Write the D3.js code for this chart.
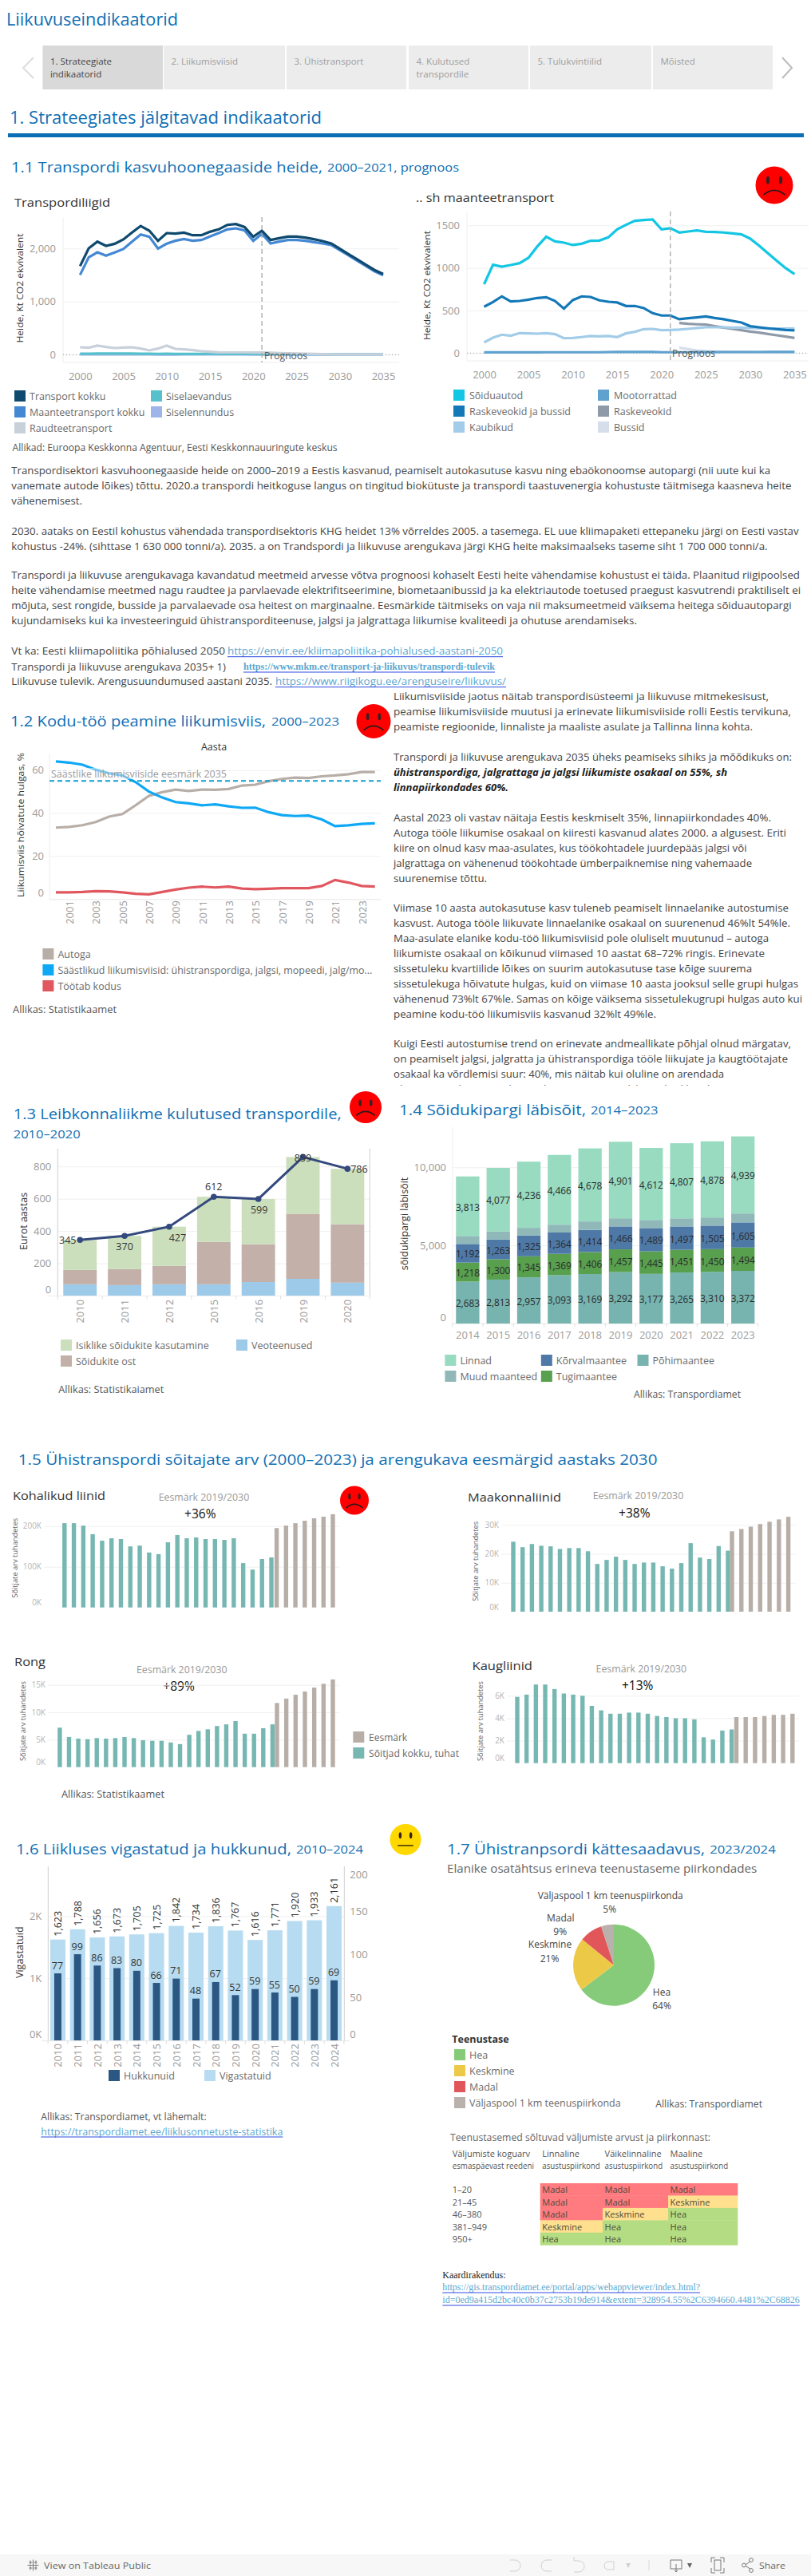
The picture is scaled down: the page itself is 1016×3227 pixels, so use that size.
<!DOCTYPE html>
<html lang="et"><head><meta charset="utf-8"><title>Liikuvuseindikaatorid</title>
<script src="https://cdn.jsdelivr.net/npm/d3@7/dist/d3.min.js"></script>
<style>html,body{margin:0;padding:0;background:#fff;overflow:hidden}svg{display:block}</style></head>
<body><div id="chart"></div>
<script>
// ---------- DATA ----------
const tabs=[["1. Strateegiate","indikaatorid"],["2. Liikumisviisid"],["3. Ühistransport"],["4. Kulutused","transpordile"],["5. Tulukvintiilid"],["Mõisted"]];
const yearsA=d3.range(2000,2036);
const transportKokku=[1668,2004,2129,2049,2089,2170,2300,2425,2335,2144,2290,2280,2300,2250,2250,2315,2360,2445,2460,2405,2220,2335,2160,2195,2225,2225,2205,2175,2140,2095,1995,1895,1795,1695,1595,1520];
const maanteeKokku=[1503,1834,1929,1864,1924,1990,2129,2265,2220,2000,2090,2145,2180,2145,2160,2225,2290,2360,2380,2340,2145,2275,2095,2130,2160,2160,2145,2120,2095,2065,1970,1870,1770,1670,1570,1495];
const raudtee=[140,130,170,145,125,135,140,115,80,115,170,110,100,85,65,55,45,42,42,42,40,40,35,30,25,22,18,14,10,8,6,5,5,5,5,5];
const siselaevandus=[18,18,20,22,22,20,20,18,18,16,18,15,15,14,15,17,16,15,14,14,13,13,12,12,11,11,10,10,10,10,10,10,10,10,10,10];
const siselennundus=[5,5,6,6,6,6,7,7,5,3,4,4,5,5,5,5,5,5,5,5,2,3,3,3,3,3,3,3,3,3,3,3,3,3,3,3];
const soiduautod=[809,1037,1015,1034,1056,1119,1253,1366,1312,1297,1269,1284,1319,1322,1359,1453,1506,1553,1562,1569,1453,1466,1416,1428,1441,1425,1422,1416,1406,1394,1344,1262,1172,1084,997,928];
const raskeJaBussid=[544,600,666,606,612,628,647,656,612,522,622,666,659,619,603,594,553,553,528,469,441,441,397,409,419,431,412,397,378,359,316,303,291,281,272,266];
const kaubikud=[125,181,216,203,234,231,228,234,222,175,178,188,200,197,200,188,231,250,281,284,269,272,275,284,294,303,303,303,300,300,294,291,288,288,288,288];
const mootorrattad=[8,8,8,8,8,8,8,10,10,10,10,10,10,10,12,13,14,14,14,13,10,10,10,10,11,11,11,12,12,12,12,12,13,13,13,13];
const yearsFc=d3.range(2022,2036);
const raskeveokid=[353,344,338,334,316,300,284,269,253,241,225,209,194,178];
const bussid=[62,47,31,22,18,15,14,13,13,12,12,12,12,12];

const yearsB=d3.range(2000,2025);
const autoga=[33.2,33.5,34.3,35.8,38.3,39.5,43.6,48,49.7,50.9,50.3,50.9,50.8,51.2,52.8,53.2,54.8,55.9,56.5,56.3,57.1,57.5,58.1,59.1,59.1];
const saastlikud=[64,63.5,62.5,60.2,58.5,57.5,54.4,50,47.2,45.1,44.5,43.6,44,43.1,42.4,42.5,40.4,39,38.6,38.8,37,33.9,34.3,34.9,35.2];
const kodus=[3,3,3.2,3.6,3.5,3,2.4,2.1,3.2,4.3,5.2,5.7,5.3,5.7,4.8,4.5,4.7,5,5,5,6,8.8,7.6,6,5.7];
const target2035=55;

const yearsC=["2010","2011","2012","2015","2016","2019","2020"];
const veoteenused=[70,65,70,70,84,104,80];
const soidukiteOst=[89,99,114,263,234,403,362];
const isiklike=[186,206,243,279,281,352,344];
const kulutusedKokku=[345,370,427,612,599,859,786];

const yearsD=["2014","2015","2016","2017","2018","2019","2020","2021","2022","2023"];
const pohi=[2683,2813,2957,3093,3169,3292,3177,3265,3310,3372];
const tugi=[1218,1300,1345,1369,1406,1457,1445,1451,1450,1494];
const korval=[1192,1263,1325,1364,1414,1466,1489,1497,1505,1605];
const muud=[510,510,500,500,545,520,520,520,520,570];
const linnad=[3813,4077,4236,4466,4678,4901,4612,4807,4878,4939];

const eesmarkYears=["2024","2025","2026","2027","2028","2029","2030"];
const kohalikudT=[207,207,201,180,164,170,168,150,152,135,131,160,178,170,172,168,168,166,170,109,93,119,123];
const kohalikudG=[195,201,207,213,219,223,229];
const maakonnaT=[24.2,22.3,23.4,22.8,22.6,21.7,22,22,20.9,16.5,17.9,19,17.9,16.5,17,17,15.7,14.9,16.8,23.7,18.7,18.2,22.7,21.1];
const maakonnaG=[27.8,28.6,29.4,30.3,31.1,31.9,32.8];
const rongT=[7.2,5.5,5.2,5.1,5.3,5.2,5.3,5.5,5.3,4.9,4.8,4.8,4.5,4.2,5.9,6.6,6.9,7.5,7.8,8.4,6.1,6.1,7.1,7.8];
const rongG=[11.7,12.5,13.2,13.8,14.5,15.2,16];
const kaugT=[5.9,6.1,7,7,6.6,6.2,6.1,6,5.1,4.7,4.4,4.4,4.5,4.5,4.4,4.2,4.1,4,4,3.9,2.3,2.1,2.9,3];
const kaugG=[4.1,4.1,4.1,4.2,4.3,4.3,4.4];

const yearsE=d3.range(2010,2025).map(String);
const vigastatuid=[1623,1788,1656,1673,1705,1725,1842,1734,1836,1767,1616,1771,1920,1933,2161];
const hukkunuid=[77,99,86,83,80,66,71,48,67,52,59,55,50,59,69];

const pieLabels=["Hea","Keskmine","Madal","Väljaspool 1 km teenuspiirkonda"];
const pieValues=[64,21,9,5];

const rowLabels=["1–20","21–45","46–380","381–949","950+"];
const colHeads=[["Linnaline","asustuspiirkond"],["Väikelinnaline","asustuspiirkond"],["Maaline","asustuspiirkond"]];
const serviceTable=[["Madal","Madal","Madal"],["Madal","Madal","Keskmine"],["Madal","Keskmine","Hea"],["Keskmine","Hea","Hea"],["Hea","Hea","Hea"]];

const para1=[
["Transpordisektori kasvuhoonegaaside heide on 2000–2019 a Eestis kasvanud, peamiselt autokasutuse kasvu ning ebaökonoomse autopargi (nii uute kui ka",589,965],
["vanemate autode lõikes) tõttu. 2020.a transpordi heitkoguse langus on tingitud biokütuste ja transpordi taastuvenergia kohustuste täitmisega kaasneva heite",608,991.5],
["vähenemisest.",627,103],
["2030. aataks on Eestil kohustus vähendada transpordisektoris KHG heidet 13% võrreldes 2005. a tasemega. EL uue kliimapaketi ettepaneku järgi on Eesti vastav",665,1000.6],
["kohustus -24%.  (sihttase 1 630 000 tonni/a). 2035. a on Trandspordi ja liikuvuse arengukava järgi KHG heite maksimaalseks taseme siht 1 700 000 tonni/a.",684,961.6],
["Transpordi ja liikuvuse arengukavaga kavandatud meetmeid arvesse võtva prognoosi kohaselt Eesti heite vähendamise kohustust ei täida. Plaanitud riigipoolsed",720.7,1002],
["heite vähendamise meetmed nagu raudtee ja parvlaevade elektrifitseerimine, biometaanibussid ja ka elektriautode toetused praegust kasvutrendi praktiliselt ei",739.7,1003],
["mõjuta, sest rongide, busside ja parvalaevade osa heitest on marginaalne. Eesmärkide täitmiseks on vaja nii maksumeetmeid väiksema heitega sõiduautopargi",758.7,991.5],
["kujundamiseks kui ka investeeringuid ühistransporditeenuse, jalgsi ja jalgrattaga liikumise kvaliteedi ja ohutuse arendamiseks.",777.7,798],
["Vt ka:  Eesti kliimapoliitika põhialused 2050",815.7,282],
["Transpordi ja liikuvuse arengukava 2035+ 1)",835,283],
["Liikuvuse tulevik. Arengusuundumused aastani 2035.",853.7,341]];
const links1=[
["https://envir.ee/kliimapoliitika-pohialused-aastani-2050",815.7,285,630,0],
["https://www.mkm.ee/transport-ja-liikuvus/transpordi-tulevik",835,305,620,1],
["https://www.riigikogu.ee/arenguseire/liikuvus/",853.7,345,634,0]];
const para2=[
["Liikumisviiside jaotus näitab transpordisüsteemi ja liikuvuse mitmekesisust,",872.7,963],
["peamise liikumisviiside muutusi ja erinevate liikumisviiside rolli Eestis tervikuna,",891.7,991],
["peamiste regioonide, linnaliste ja maaliste asulate ja Tallinna linna kohta.",910.7,943],
["Transpordi ja liikuvuse arengukava 2035 üheks peamiseks sihiks ja mõõdikuks on:",948.7,992],
["ühistranspordiga, jalgrattaga ja jalgsi liikumiste osakaal on 55%, sh",967.7,911,1],
["linnapiirkondades 60%.",986.7,637,1],
["Aastal 2023 oli vastav näitaja Eestis keskmiselt 35%, linnapiirkondades 40%.",1024.7,966],
["Autoga tööle liikumise osakaal on kiiresti kasvanud alates 2000. a algusest. Eriti",1043.7,985],
["kiire on olnud kasv maa-asulates, kus töökohtadele juurdepääs jalgsi või",1062.7,935.5],
["jalgrattaga on vähenenud töökohtade ümberpaiknemise ning vahemaade",1081.7,942],
["suurenemise tõttu.",1100.7,610],
["Viimase 10 aasta autokasutuse kasv tuleneb peamiselt linnaelanike autostumise",1137.7,988],
["kasvust. Autoga tööle liikuvate linnaelanike osakaal on suurenenud 46%lt 54%le.",1156.7,990],
["Maa-asulate elanike kodu-töö liikumisviisid pole oluliselt muutunud – autoga",1175.7,963],
["liikumiste osakaal on kõikunud viimased 10 aastat 68–72% ringis. Erinevate",1194.7,958],
["sissetuleku kvartiilide lõikes on suurim autokasutuse tase kõige suurema",1213.7,942],
["sissetulekuga hõivatute hulgas, kuid on viimase 10 aasta jooksul selle grupi hulgas",1232.7,1000],
["vähenenud 73%lt 67%le. Samas on kõige väiksema sissetulekugrupi hulgas auto kui",1251.7,1005],
["peamine kodu-töö liikumisviis kasvanud 32%lt 49%le.",1270.7,822],
["Kuigi Eesti autostumise trend on erinevate andmeallikate põhjal olnud märgatav,",1307.7,991],
["on peamiselt jalgsi, jalgratta ja ühistranspordiga tööle liikujate ja kaugtöötajate",1326.7,987],
["osakaal ka võrdlemisi suur: 40%, mis näitab kui oluline on arendada",1345.7,907],
["ühistransporditeenuseid ning ohutut ja mugavat liikumiskeskkonda.",1364.7,900]];

// ---------- HELPERS ----------
const FONT="'Open Sans',sans-serif", BLUE="#0f6fb5", TICK="#9a9a9a", LEG="#6b6b6b", TXT="#444";
const svg=d3.select("#chart").append("svg").attr("width",1016).attr("height",3227).attr("viewBox","0 0 1016 3227");
const defs=svg.append("defs");
defs.append("clipPath").attr("id","clipR").append("rect").attr("x",480).attr("y",860).attr("width",536).attr("height",500);
defs.append("clipPath").attr("id","clipL").append("rect").attr("x",540).attr("y",2840).attr("width",462).attr("height",60);

function T(str,x,y,o={},p=svg){
  const t=p.append("text").attr("x",x).attr("y",y).attr("dominant-baseline","central")
   .attr("font-size",o.s||12).attr("fill",o.c||TXT).attr("font-family",o.f||FONT).text(str);
  if(o.a)t.attr("text-anchor",o.a);
  if(o.b)t.attr("font-weight",o.b);
  if(o.i)t.attr("font-style","italic");
  if(o.L)t.attr("textLength",o.L).attr("lengthAdjust","spacingAndGlyphs");
  if(o.r)t.attr("transform",`rotate(${o.r},${x},${y})`);
  return t;
}
function face(cx,cy,r,col,sad){
  const g=svg.append("g").attr("transform",`translate(${cx},${cy})`);
  g.append("circle").attr("r",r).attr("fill",col);
  [-1,1].forEach(s=>g.append("ellipse").attr("cx",s*.34*r).attr("cy",-.27*r).attr("rx",.09*r).attr("ry",.21*r).attr("fill","#3a2020"));
  if(sad)g.append("path").attr("d",`M${-.58*r},${.52*r}Q0,${.02*r} ${.58*r},${.52*r}`).attr("fill","none").attr("stroke","#2a1a1a").attr("stroke-width",1.6);
  else g.append("line").attr("x1",-.5*r).attr("x2",.5*r).attr("y1",.38*r).attr("y2",.38*r).attr("stroke","#4a3a00").attr("stroke-width",1.6);
}
function axisY(scale,ticks,x,w,fmt,o={}){
  const a=svg.append("g").attr("transform",`translate(${x},0)`)
    .call(d3.axisLeft(scale).tickValues(ticks).tickFormat(fmt).tickSize(-w).tickPadding(o.pad||8));
  a.select(".domain").remove();
  a.selectAll(".tick line").attr("stroke",o.grid||"#f0f0f0").attr("stroke-width",1);
  a.selectAll(".tick text").attr("font-family",FONT).attr("font-size",o.s||13).attr("fill",o.c||TICK);
  if(o.lift)a.selectAll(".tick").filter(d=>d===0).select("text").attr("transform",`translate(0,${-o.lift})`);
  if(o.noZero)a.selectAll(".tick").filter(d=>d===0).select("line").remove();
  return a;
}
function axisX(scale,ticks,y,cy,o={}){
  const ax=d3.axisBottom(scale).tickSize(0).tickFormat(o.fmt||(d=>d));
  if(ticks)ax.tickValues(ticks);
  const a=svg.append("g").attr("transform",`translate(0,${y})`).call(ax);
  a.select(".domain").remove();
  a.selectAll(".tick text").attr("font-family",FONT).attr("font-size",o.s||13).attr("fill",TICK)
   .attr("y",0).attr("dy",null).attr("dominant-baseline","central")
   .attr("transform",`translate(0,${cy-y})`+(o.rot?" rotate(-90)":""));
  return a;
}
function legend(items,o){
  items.forEach(([lab,col,x,y,L])=>{
    svg.append("rect").attr("x",x).attr("y",y).attr("width",14).attr("height",14).attr("fill",col);
    T(lab,x+(o.gap||19),y+7,{s:o.s||12.5,c:LEG,L});
  });
}
function frame(x0,x1,y0,y1,c="#eeeeee"){
  svg.append("line").attr("x1",x0).attr("x2",x0).attr("y1",y0).attr("y2",y1).attr("stroke",c);
  svg.append("line").attr("x1",x0).attr("x2",x1).attr("y1",y1).attr("y2",y1).attr("stroke",c);
}
function link(str,y,x0,x1,o={}){
  T(str,x0,y,{s:o.s||12,c:"#5ba7cf",L:x1-x0,f:o.f,b:o.b});
  svg.append("line").attr("x1",x0).attr("x2",x1).attr("y1",y+7).attr("y2",y+7).attr("stroke","#1a35e0").attr("stroke-width",.9);
}
function bandTicks(x,y,n,x0,step){
  d3.range(n+1).forEach(i=>svg.append("line").attr("x1",x0+i*step).attr("x2",x0+i*step).attr("y1",y).attr("y2",y+4).attr("stroke","#dddddd"));
}

// ---------- HEADER ----------
T("Liikuvuseindikaatorid",8,24,{s:21,c:BLUE,L:215});
const tabX=[[53.4,204],[205,357],[359,509],[512,662],[664,816],[818,968]];
tabs.forEach((t,i)=>{
  svg.append("rect").attr("x",tabX[i][0]).attr("y",57).attr("width",tabX[i][1]-tabX[i][0]).attr("height",55).attr("fill",i?"#ececec":"#d9d9d9");
  t.forEach((l,j)=>T(l,tabX[i][0]+9.5,76+j*16,{s:11.5,c:i?"#9c9c9c":"#444"}));
});
svg.append("path").attr("d","M42,72L29,85L42,98").attr("fill","none").attr("stroke","#dddddd").attr("stroke-width",2);
svg.append("path").attr("d","M980,72L992,85L980,98").attr("fill","none").attr("stroke","#bbbbbb").attr("stroke-width",2);
T("1. Strateegiates jälgitavad indikaatorid",12,147,{s:21,c:BLUE,L:391});
svg.append("rect").attr("x",10).attr("y",167).attr("width",997).attr("height",5).attr("fill","#0a6fb4");

// ---------- 1.1 ----------
T("1.1 Transpordi kasvuhoonegaaside heide,",14,209,{s:18,c:BLUE,L:390});
T("2000–2021, prognoos",410,209,{s:14.5,c:BLUE,L:165});
face(970,232,23.5,"#ff0000",true);
T("Transpordiliigid",18,253,{s:15,c:"#333",L:120});
{
  const x=d3.scaleLinear().domain([2000,2035]).range([100.3,480]);
  const y=d3.scaleLinear().domain([0,2000]).range([444.3,311.3]);
  axisY(y,[0,1000,2000],79,421,d3.format(","),{pad:9});
  frame(79,500,272,454);
  svg.append("line").attr("x1",79).attr("x2",500).attr("y1",y(0)).attr("y2",y(0)).attr("stroke","#999").attr("stroke-dasharray","1,3");
  axisX(x,[2000,2005,2010,2015,2020,2025,2030,2035],454,470.7,{fmt:d3.format("d")});
  const line=d3.line().x((d,i)=>x(2000+i)).y(d=>y(d));
  [[siselennundus,"#9db5e8"],[siselaevandus,"#56c1cc"],[raudtee,"#c8d0da"],[maanteeKokku,"#4488d4"],[transportKokku,"#0f4a6e"]]
   .forEach(([v,c])=>svg.append("path").attr("d",line(v)).attr("fill","none").attr("stroke",c).attr("stroke-width",3.2));
  svg.append("line").attr("x1",x(2021)).attr("x2",x(2021)).attr("y1",272).attr("y2",454).attr("stroke","#a8a8a8").attr("stroke-width",1.3).attr("stroke-dasharray","6,4");
  T("Prognoos",331,445,{s:12.5,c:"#555",L:54});
  T("Heide, Kt CO2 ekvivalent",24,361,{s:11.5,c:"#333",a:"middle",r:-90,L:137});
  legend([["Transport kokku","#0f4a6e",18,489],["Maanteetransport kokku","#4488d4",18,509],["Raudteetransport","#c8d0da",18,529],["Siselaevandus","#56c1cc",189,489],["Siselennundus","#9db5e8",189,509]],{});
  T("Allikad: Euroopa Keskkonna Agentuur, Eesti Keskkonnauuringute keskus",15.6,560,{s:12,c:"#555",L:407});
}
T(".. sh maanteetransport",521,247,{s:15,c:"#333",L:173});
{
  const x=d3.scaleLinear().domain([2000,2035]).range([606.5,995.4]);
  const y=d3.scaleLinear().domain([0,1500]).range([442.3,282.3]);
  axisY(y,[0,500,1000,1500],585,428,d=>d,{pad:9});
  frame(585,1013,265,452);
  svg.append("line").attr("x1",585).attr("x2",1013).attr("y1",y(0)).attr("y2",y(0)).attr("stroke","#999").attr("stroke-dasharray","1,3");
  axisX(x,[2000,2005,2010,2015,2020,2025,2030,2035],452,468.7,{fmt:d3.format("d")});
  const line=s=>d3.line().x((d,i)=>x(s+i)).y(d=>y(d));
  [[bussid,"#d5deea",yearsFc[0]],[raskeveokid,"#8f9aa8",yearsFc[0]],[kaubikud,"#a2cce8",2000],[raskeJaBussid,"#1478b8",2000],[soiduautod,"#13c6e4",2000],[mootorrattad,"#5fa2d0",2000]]
   .forEach(([v,c,s])=>svg.append("path").attr("d",line(s)(v)).attr("fill","none").attr("stroke",c).attr("stroke-width",3.2));
  svg.append("line").attr("x1",x(2021)).attr("x2",x(2021)).attr("y1",265).attr("y2",452).attr("stroke","#a8a8a8").attr("stroke-width",1.3).attr("stroke-dasharray","6,4");
  T("Prognoos",842,442,{s:12.5,c:"#555",L:54});
  T("Heide, Kt CO2 ekvivalent",534,357.5,{s:11.5,c:"#333",a:"middle",r:-90,L:137});
  legend([["Sõiduautod","#13c6e4",568,488],["Raskeveokid ja bussid","#1478b8",568,508],["Kaubikud","#a2cce8",568,528],["Mootorrattad","#5fa2d0",749,488],["Raskeveokid","#8f9aa8",749,508],["Bussid","#d5deea",749,528]],{gap:20});
}

// ---------- TEXT ----------
para1.forEach(([s,y,e])=>T(s,14.3,y,{s:12.2,L:e-14.3}));
links1.forEach(([s,y,a,b,serif])=>link(s,y,a,b,serif?{f:"'Liberation Serif',serif",b:"bold",s:12}:{}));
const gR=svg.append("g").attr("clip-path","url(#clipR)");
para2.forEach(([s,y,e,bi])=>T(s,493,y,{s:12.2,L:e-493,b:bi?"bold":null,i:bi,c:bi?"#222":TXT},gR));

// ---------- 1.2 ----------
T("1.2 Kodu-töö peamine liikumisviis,",13,903,{s:18,c:BLUE,L:320});
T("2000–2023",340,903,{s:15,c:BLUE,L:85});
face(468,903.5,21.5,"#ff0000",true);
T("Aasta",268,935,{s:12.5,c:"#333",a:"middle"});
{
  const x=d3.scaleLinear().domain([2000,2024]).range([70,469.7]);
  const y=d3.scaleLinear().domain([0,60]).range([1126,964.7]);
  axisY(y,[0,20,40,60],62,415,d=>d,{pad:7,lift:8});
  frame(62,477,944,1127);
  axisX(x,d3.range(2001,2024,2),1127,1143,{rot:true,fmt:d3.format("d")});
  const line=d3.line().x((d,i)=>x(yearsB[i])).y(d=>y(d));
  [[autoga,"#b8aea8"],[saastlikud,"#0fa8f5"],[kodus,"#e1575f"]].forEach(([v,c])=>svg.append("path").attr("d",line(v)).attr("fill","none").attr("stroke",c).attr("stroke-width",3.2));
  svg.append("rect").attr("x",64).attr("y",962).attr("width",220).attr("height",14).attr("fill","#fff").attr("opacity",.45);
  svg.append("line").attr("x1",62).attr("x2",477).attr("y1",y(target2035)).attr("y2",y(target2035)).attr("stroke","#0f9fd0").attr("stroke-width",2).attr("stroke-dasharray","6,4");
  T("Säästlike liikumisviiside eesmärk 2035",64,969,{s:12,c:"#9a9a9a",L:220});
  T("Liikumisviis hõivatute hulgas, %",25,1033.5,{s:11.5,c:"#333",a:"middle",r:-90,L:181});
  legend([["Autoga","#b8aea8",53.4,1188],["Säästlikud liikumisviisid: ühistranspordiga, jalgsi, mopeedi, jalg/mo...","#0fa8f5",53.4,1208,394],["Töötab kodus","#e1575f",53.4,1228]],{});
  T("Allikas: Statistikaamet",16,1264,{s:12,c:"#555",L:130});
}

// ---------- 1.3 ----------
T("1.3 Leibkonnaliikme kulutused transpordile,",16.7,1395,{s:18,c:BLUE,L:411});
T("2010–2020",16.7,1420,{s:15,c:BLUE,L:84});
face(458,1387,20,"#ff0000",true);
{
  const x=d3.scaleBand().domain(yearsC).range([72.3,463.3]).paddingInner(.25).paddingOuter(.125);
  const y=d3.scaleLinear().domain([0,800]).range([1623,1461.3]);
  axisY(y,[0,200,400,600,800],72.3,391,d=>d,{pad:8,lift:8,s:13});
  const tbl=yearsC.map((k,i)=>({k,veo:veoteenused[i],ost:soidukiteOst[i],isik:isiklike[i]}));
  const st=d3.stack().keys(["veo","ost","isik"])(tbl);
  const cols={veo:"#9ecae9",ost:"#c3b0a9",isik:"#cbdfbd"};
  st.forEach(s=>svg.append("g").selectAll("rect").data(s).join("rect").attr("x",d=>x(d.data.k)).attr("width",x.bandwidth())
     .attr("y",d=>y(d[1])).attr("height",d=>y(d[0])-y(d[1])).attr("fill",cols[s.key]));
  svg.append("line").attr("x1",72.3).attr("x2",72.3).attr("y1",1439).attr("y2",1623.5).attr("stroke","#cfcfcf");
  svg.append("line").attr("x1",463.3).attr("x2",463.3).attr("y1",1439).attr("y2",1623.5).attr("stroke","#cfcfcf");
  svg.append("line").attr("x1",60).attr("x2",463.3).attr("y1",1623.5).attr("y2",1623.5).attr("stroke","#eeeeee");
  bandTicks(x,1623.5,7,72.3,x.step());
  axisX(x,null,1623.5,1642.7,{rot:true});
  const cx=d=>x(d)+x.bandwidth()/2;
  svg.append("path").attr("d",d3.line().x((d,i)=>cx(yearsC[i])).y(d=>y(d))(kulutusedKokku)).attr("fill","none").attr("stroke","#34497d").attr("stroke-width",3);
  svg.append("g").selectAll("circle").data(kulutusedKokku).join("circle").attr("cx",(d,i)=>cx(yearsC[i])).attr("cy",d=>y(d)).attr("r",3.8).attr("fill","#34497d");
  const off=[[-15.5,.5],[0,13],[10.5,13.5],[0,-12.5],[1,13.5],[0,1.5],[14.5,.5]];
  kulutusedKokku.forEach((d,i)=>T(d,cx(yearsC[i])+off[i][0],y(d)+off[i][1],{s:12.5,c:"#333",a:"middle"}));
  T("Eurot aastas",29.3,1530,{s:12.5,c:"#333",a:"middle",r:-90});
  legend([["Isiklike sõidukite kasutamine","#cbdfbd",76,1678],["Sõidukite ost","#c3b0a9",76,1698],["Veoteenused","#9ecae9",296,1678]],{});
  T("Allikas: Statistikaiamet",73.3,1740,{s:12,c:"#555",L:132});
}

// ---------- 1.4 ----------
T("1.4 Sõidukipargi läbisõit,",500,1390,{s:18,c:BLUE,L:234});
T("2014–2023",740,1390,{s:15,c:BLUE,L:84.5});
{
  const x=d3.scaleBand().domain(yearsD).range([566.75,949.85]).paddingInner(.235).paddingOuter(.1175);
  const y=d3.scaleLinear().domain([0,10000]).range([1658,1462.3]);
  axisY(y,[0,5000,10000],567,383,d3.format(","),{pad:8,lift:8});
  frame(567,950,1412,1658);
  bandTicks(x,1658,10,566.75,x.step());
  const tbl=yearsD.map((k,i)=>({k,pohi:pohi[i],tugi:tugi[i],korval:korval[i],muud:muud[i],linnad:linnad[i]}));
  const st=d3.stack().keys(["pohi","tugi","korval","muud","linnad"])(tbl);
  const cols={linnad:"#98dbc0",muud:"#90b8b8",korval:"#4e79a7",tugi:"#589f4e",pohi:"#77b4af"};
  st.forEach(s=>{
    const g=svg.append("g");
    g.selectAll("rect").data(s).join("rect").attr("x",d=>x(d.data.k)).attr("width",x.bandwidth())
     .attr("y",d=>y(d[1])).attr("height",d=>y(d[0])-y(d[1])).attr("fill",cols[s.key]);
    if(s.key!=="muud")s.forEach(d=>T(d3.format(",")(d.data[s.key]),x(d.data.k)+x.bandwidth()/2,y((d[0]+d[1])/2)+.5,{s:11.8,c:"#2a2a2a",a:"middle"}));
  });
  axisX(x,null,1658,1671.7);
  T("sõidukipargi läbisõit",506,1533,{s:12.5,c:"#333",a:"middle",r:-90});
  legend([["Linnad","#98dbc0",557.4,1697],["Muud maanteed","#90b8b8",557.4,1717],["Kõrvalmaantee","#4e79a7",677.8,1697],["Tugimaantee","#589f4e",677.8,1717],["Põhimaantee","#77b4af",798.5,1697]],{});
  T("Allikas: Transpordiamet",794,1746.7,{s:12,c:"#555",L:134});
}

// ---------- 1.5 ----------
T("1.5 Ühistransport sõitajate arv (2000–2023) ja arengukava eesmärgid aastaks 2030".replace("Ühistransport sõitajate","Ühistranspordi sõitajate"),22.8,1828,{s:18,c:BLUE,L:800.7});
function panel(o){
  T(o.title,o.tx,o.ty,{s:15,c:"#333",L:o.tw});
  T("Eesmärk 2019/2030",o.ex,o.ey,{s:12,c:"#999",L:113.5});
  T(o.pct,o.px,o.py,{s:15.5,c:"#111",a:"middle"});
  const y=d3.scaleLinear().domain([0,o.ref]).range([o.y0,o.yRef]);
  axisY(y,o.ticks,o.gx,o.gw,d=>d+"K",{s:10,c:"#b5b5b5",pad:o.pad,lift:6,noZero:true});
  const firstT=o.teal.length;
  const xT=d3.scalePoint().domain(d3.range(firstT)).range(o.xT);
  const xG=d3.scalePoint().domain(eesmarkYears).range(o.xG);
  const bw=5.4;
  svg.append("g").selectAll("rect").data(o.teal).join("rect").attr("x",(d,i)=>xT(i)-bw/2).attr("width",bw).attr("y",d=>y(d)).attr("height",d=>o.y0-y(d)).attr("fill","#76b7b2");
  svg.append("g").selectAll("rect").data(o.goal).join("rect").attr("x",(d,i)=>xG(eesmarkYears[i])-bw/2).attr("width",bw).attr("y",d=>y(d)).attr("height",d=>o.y0-y(d)).attr("fill","#b8aea8");
  T("Sõitjate arv tuhandetes",o.lx,o.ly,{s:9.5,c:"#666",a:"middle",r:-90,L:100});
}
panel({title:"Kohalikud liinid",tx:16,ty:1872.7,tw:116,ex:198.7,ey:1875,pct:"+36%",px:250.8,py:1896,ref:200,y0:2013.7,yRef:1911.7,ticks:[0,100,200],gx:55,gw:370,pad:3,teal:kohalikudT,goal:kohalikudG,xT:[80.8,340],xG:[346.6,417],lx:19,ly:1951.7});
panel({title:"Maakonnaliinid",tx:586,ty:1875,tw:117,ex:742.7,ey:1873.7,pct:"+38%",px:794.8,py:1895,ref:30,y0:2019,yRef:1910.3,ticks:[0,10,20,30],gx:628,gw:369,pad:3,teal:maakonnaT,goal:maakonnaG,xT:[643,912],xG:[917,987.6],lx:595.5,ly:1955.8});
panel({title:"Rong",tx:18,ty:2081,tw:39,ex:171,ey:2091,pct:"+89%",px:224,py:2112,ref:15,y0:2213.7,yRef:2110.7,ticks:[0,5,10,15],gx:60,gw:365,pad:3,teal:rongT,goal:rongG,xT:[74.9,341.4],xG:[347,417],lx:28,ly:2156});
panel({title:"Kaugliinid",tx:591.5,ty:2085.7,tw:75.5,ex:746.6,ey:2090,pct:"+13%",px:798.7,py:2111,ref:6,y0:2208.7,yRef:2124.3,ticks:[0,2,4,6],gx:635,gw:366,pad:3,teal:kaugT,goal:kaugG,xT:[648,916.6],xG:[922.5,992.8],lx:601,ly:2156});
face(444,1879.5,18,"#ff0000",true);
legend([["Eesmärk","#b8aea8",442.3,2169],["Sõitjad kokku, tuhat","#76b7b2",442.3,2189,113]],{gap:19.7,s:12});
T("Allikas: Statistikaamet",77,2247,{s:12,c:"#555",L:129});

// ---------- 1.6 ----------
face(508,2304.5,19.5,"#ffd800",false);
T("1.6 Liikluses vigastatud ja hukkunud,",20,2316,{s:18,c:BLUE,L:345});
T("2010–2024",371,2316,{s:15,c:BLUE,L:84});
{
  const x=d3.scaleBand().domain(yearsE).range([60.1,430.9]).paddingInner(.23).paddingOuter(.115);
  const y=d3.scaleLinear().domain([0,2000]).range([2556,2400.3]);
  const y2=d3.scaleLinear().domain([0,200]).range([2556,2338]);
  axisY(y,[0,1000,2000],60.3,371,d=>d/1000+"K",{pad:8,lift:8});
  svg.append("g").selectAll("rect").data(vigastatuid).join("rect").attr("x",(d,i)=>x(yearsE[i])).attr("width",x.bandwidth()).attr("y",d=>y(d)).attr("height",d=>y(0)-y(d)).attr("fill","#b7dcf1");
  const dw=9;
  svg.append("g").selectAll("rect").data(hukkunuid).join("rect").attr("x",(d,i)=>x(yearsE[i])+x.bandwidth()/2-dw/2).attr("width",dw).attr("y",d=>y2(d)).attr("height",d=>y2(0)-y2(d)).attr("fill","#2b5783");
  vigastatuid.forEach((d,i)=>{T(d3.format(",")(d),x(yearsE[i])+x.bandwidth()/2,y(d)-4,{s:12.5,c:"#333",r:-90});});
  hukkunuid.forEach((d,i)=>T(d,x(yearsE[i])+x.bandwidth()/2-.5,y2(d)-10,{s:12.5,c:"#333",a:"middle"}));
  svg.append("line").attr("x1",60.3).attr("x2",60.3).attr("y1",2338).attr("y2",2556.7).attr("stroke","#cfcfcf");
  svg.append("line").attr("x1",431.3).attr("x2",431.3).attr("y1",2338).attr("y2",2556.7).attr("stroke","#cfcfcf");
  svg.append("line").attr("x1",52).attr("x2",438).attr("y1",2556.7).attr("y2",2556.7).attr("stroke","#e8e8e8");
  bandTicks(x,2556.7,15,60.1,x.step());
  const ax2=svg.append("g").attr("transform","translate(431.3,0)").call(d3.axisRight(y2).tickValues([0,50,100,150,200]).tickSize(0).tickPadding(7));
  ax2.select(".domain").remove();
  ax2.selectAll(".tick text").attr("font-family",FONT).attr("font-size",13).attr("fill",TICK);
  ax2.selectAll(".tick").filter(d=>d===200).select("text").attr("transform","translate(0,10)");
  ax2.selectAll(".tick").filter(d=>d===0).select("text").attr("transform","translate(0,-8)");
  ax2.selectAll(".tick").filter(d=>d===50||d===100||d===150).select("text").attr("transform",d=>`translate(0,${d===150?2:d===100?1:1})`);
  axisX(x,null,2556.7,2575,{rot:true});
  T("Vigastatuid",25,2445.7,{s:12.5,c:"#333",a:"middle",r:-90});
  legend([["Hukkunuid","#2b5783",136,2593],["Vigastatuid","#b7dcf1",256,2593]],{});
  T("Allikas: Transpordiamet, vt lähemalt:",51.3,2651.7,{s:12,c:"#555",L:207.4});
  link("https://transpordiamet.ee/liiklusonnetuste-statistika",2670,51.3,354.3);
}

// ---------- 1.7 ----------
T("1.7 Ühistranpsordi kättesaadavus,",560,2316,{s:18,c:BLUE,L:323});
T("2023/2024",889.3,2316,{s:15,c:BLUE,L:82.4});
T("Elanike osatähtsus erineva teenustaseme piirkondades",560,2340.7,{s:14,c:"#666",L:388.3});
{
  const pieCols=["#85cb79","#edc948","#e15759","#bab0ac"];
  const pie=d3.pie().sort(null)(pieValues);
  const arc=d3.arc().innerRadius(0).outerRadius(51);
  svg.append("g").attr("transform","translate(769,2461.7)").selectAll("path").data(pie).join("path").attr("d",arc).attr("fill",(d,i)=>pieCols[i]);
  const pos=[[829,2495,829,2512.7],[689,2435.7,688.5,2453.7],[702.3,2402,701.7,2419.7],[764.7,2374,763.7,2391.7]];
  pieLabels.forEach((l,i)=>{
    T(l,pos[i][0],pos[i][1],{s:12,c:"#444",a:"middle"});
    T(pieValues[i]+"%",pos[i][2],pos[i][3],{s:12,c:"#444",a:"middle"});
  });
  T("Teenustase",566.3,2554,{s:12.5,c:"#333",b:"bold"});
  legend(pieLabels.map((l,i)=>[l,pieCols[i],569,2567+20*i]),{});
  T("Allikas: Transpordiamet",821.3,2635,{s:12,c:"#555",L:133.7});
  T("Teenustasemed sõltuvad väljumiste arvust ja piirkonnast:",564,2677.7,{s:12.2,c:"#666",L:326});
  T("Väljumiste koguarv",566.7,2697.3,{s:11,c:"#555"});
  T("esmaspäevast reedeni",566.7,2712.7,{s:11,c:"#555",L:102.3});
  const colX=d3.scaleOrdinal().domain([0,1,2]).range([676.7,755,837]);
  const colEnd=[755,837,924.3];
  const rowY=d3.scaleBand().domain(d3.range(5)).range([2735,2812.3]);
  const cellCol={Madal:"#ff7b80",Keskmine:"#fee08e",Hea:"#b4dc82"};
  colHeads.forEach((h,i)=>{
    T(h[0],colX(i)+2.6,2697.3,{s:11,c:"#555"});
    T(h[1],colX(i)+2.6,2712.7,{s:11,c:"#555",L:72.5});
  });
  serviceTable.forEach((row,r)=>{
    T(rowLabels[r],566.7,rowY(r)+rowY.bandwidth()/2,{s:11,c:"#555"});
    row.forEach((v,c)=>{
      svg.append("rect").attr("x",colX(c)).attr("y",rowY(r)).attr("width",colEnd[c]-colX(c)).attr("height",rowY.bandwidth()+.4).attr("fill",cellCol[v]);
      T(v,colX(c)+2.6,rowY(r)+rowY.bandwidth()/2,{s:11,c:"#4f4a3a"});
    });
  });
  T("Kaardirakendus:",554.3,2850,{s:12,c:"#222",f:"'Liberation Serif',serif"});
  link("https://gis.transpordiamet.ee/portal/apps/webappviewer/index.html?",2865,554.3,877,{f:"'Liberation Serif',serif",s:12});
  const lg=svg.append("g").attr("clip-path","url(#clipL)");
  T("id=0ed9a415d2bc40c0b37c2753b19de914&extent=328954.55%2C6394660.4481%2C68826",554.3,2881,{s:12,c:"#5ba7cf",f:"'Liberation Serif',serif",L:447.4},lg);
  svg.append("line").attr("x1",554.3).attr("x2",1001.7).attr("y1",2888).attr("y2",2888).attr("stroke","#1a35e0").attr("stroke-width",.9);
}

// ---------- FOOTER ----------
svg.append("rect").attr("x",0).attr("y",3200).attr("width",1016).attr("height",27).attr("fill","#f7f7f7");
T("View on Tableau Public",55,3213.5,{s:11.5,c:"#666",L:134});
T("Share",951,3213.5,{s:11.5,c:"#666",L:33});
const ic=svg.append("g").attr("fill","none").attr("stroke","#cfcfcf").attr("stroke-width",1);
[[41.5,3213.5]].forEach(([x,y])=>{
  const g=svg.append("g").attr("stroke","#777").attr("stroke-width",1);
  [[-7,0,7,0],[0,-7,0,7],[-5,-3.5,-1,-3.5],[1,-3.5,5,-3.5],[-5,3.5,-1,3.5],[1,3.5,5,3.5],[-3.5,-6,-3.5,-1],[3.5,-6,3.5,-1],[-3.5,1,-3.5,6],[3.5,1,3.5,6]]
    .forEach(l=>g.append("line").attr("x1",x+l[0]).attr("y1",y+l[1]).attr("x2",x+l[2]).attr("y2",y+l[3]));
});
ic.append("path").attr("d","M639,3207h6a7,7 0 0 1 0,14h-6");
ic.append("path").attr("d","M691,3207h-6a7,7 0 0 0 0,14h6");
ic.append("path").attr("d","M719,3203v5h6a7,7 0 0 1 0,14h-6");
ic.append("path").attr("d","M769,3209h-7a5,5 0 0 0 0,10h7z");
svg.append("path").attr("d","M784,3211h6l-3,6z").attr("fill","#cfcfcf");
svg.append("line").attr("x1",813).attr("x2",813).attr("y1",3207).attr("y2",3220).attr("stroke","#d8d8d8");
const ic2=svg.append("g").attr("fill","none").attr("stroke","#777").attr("stroke-width",1);
ic2.append("path").attr("d","M840,3207h14v11h-14zM847,3212v10M845,3220l2,2l2,-2");
svg.append("path").attr("d","M861,3211h6l-3,6z").attr("fill","#666");
ic2.append("rect").attr("x",895).attr("y",3207).attr("width",8).attr("height",13);
ic2.append("path").attr("d","M891,3210v-6h5M907,3210v-6h-5M891,3217v6h5M907,3217v6h-5");
ic2.append("path").attr("d","M941,3208L933,3213.5L941,3219");
[[941,3207],[932,3213.5],[941,3220]].forEach(([x,y])=>ic2.append("circle").attr("cx",x).attr("cy",y).attr("r",2.4).attr("fill","#f7f7f7"));
</script></body></html>
